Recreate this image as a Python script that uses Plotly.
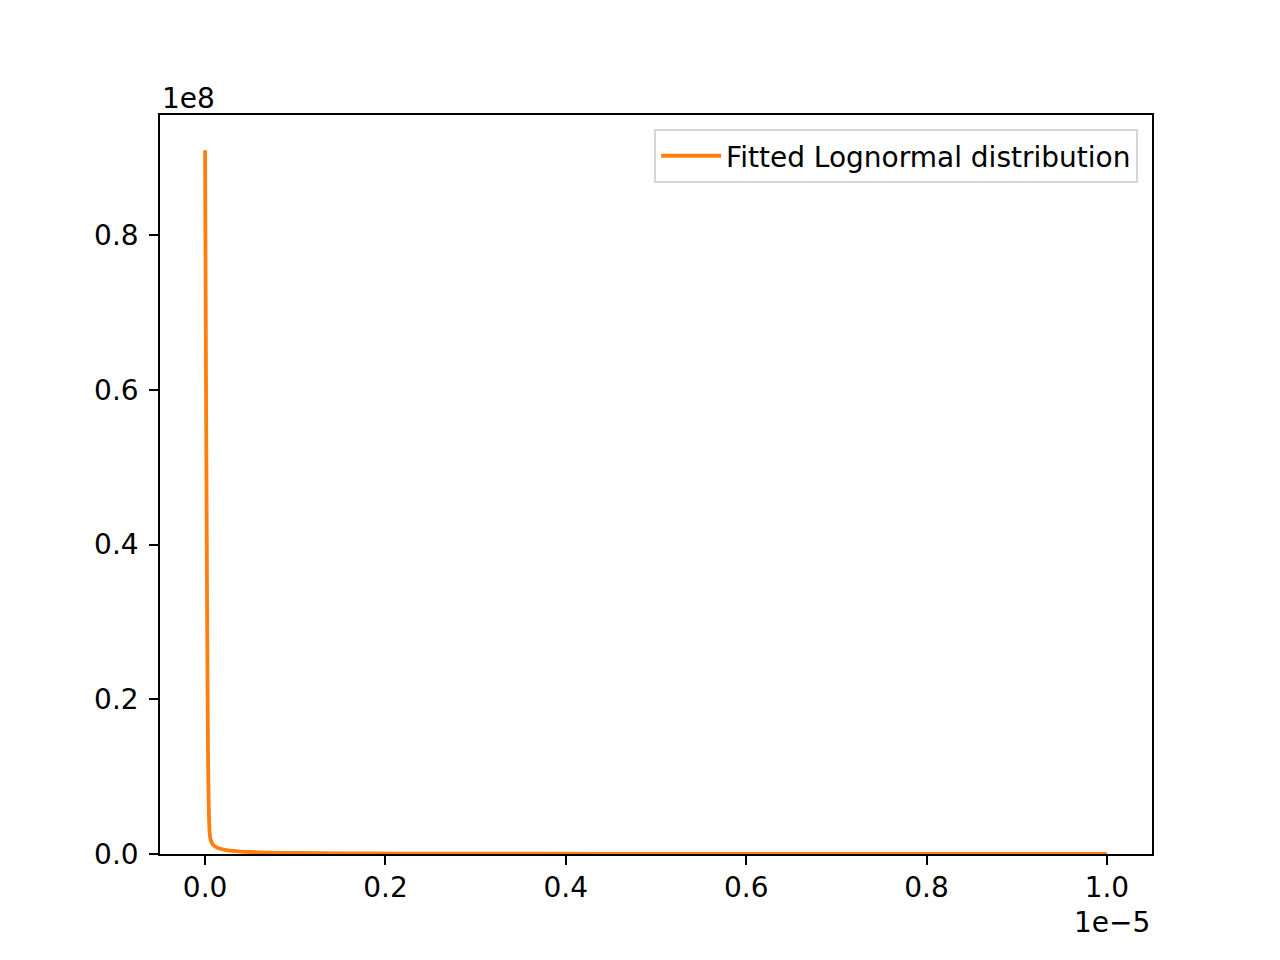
import plotly.graph_objects as go

# Values (x in units of 1e-5, density in units of 1e8)
x_vals = [0.0, 0.0011, 0.0022, 0.0033, 0.0044, 0.0055, 0.0072, 0.0089, 0.0115, 0.0144,
          0.018, 0.022, 0.03, 0.04, 0.05, 0.07, 0.105, 0.15, 0.216, 0.3, 0.44, 0.6, 0.8, 1.0]
pdf_vals = [0.91, 0.587, 0.328, 0.121, 0.044, 0.022, 0.0155, 0.0116, 0.0095, 0.0078,
            0.0064, 0.0052, 0.0040, 0.0031, 0.0026, 0.0019, 0.0013, 0.0009, 0.0006, 0.0004,
            0.00025, 0.00015, 0.0001, 0.00006]
series_name = "Fitted Lognormal distribution"
x_ticks = [0.0, 0.2, 0.4, 0.6, 0.8, 1.0]
y_ticks = [0.0, 0.2, 0.4, 0.6, 0.8]
x_exp_label = "1e\u22125"
y_exp_label = "1e8"

FONT = "DejaVu Sans"
FS = 28

fig = go.Figure()
fig.add_trace(go.Scatter(
    x=x_vals, y=pdf_vals, mode="lines", name=series_name,
    line=dict(color="#ff7f0e", width=3.8, shape="spline", smoothing=0.6),
))

axis_common = dict(
    showline=True, linecolor="black", linewidth=1.5, mirror=True,
    ticks="outside", ticklen=9, tickwidth=1.5, tickcolor="black",
    showgrid=False, zeroline=False,
    tickfont=dict(family=FONT, size=FS, color="black"),
    tickformat=".1f",
)

fig.update_xaxes(range=[-0.05, 1.05], tickvals=x_ticks, ticklabelstandoff=-1, **axis_common)
fig.update_yaxes(range=[0, 0.9555], tickvals=y_ticks, ticklabelstandoff=5, **axis_common)

fig.add_annotation(text=y_exp_label, xref="paper", yref="paper", x=0, y=1,
                   xanchor="left", yanchor="bottom", showarrow=False, yshift=-2,
                   font=dict(family=FONT, size=FS, color="black"))
fig.add_annotation(text=x_exp_label, xref="paper", yref="paper", x=1, y=0,
                   xanchor="right", yanchor="top", showarrow=False, yshift=-50,
                   font=dict(family=FONT, size=FS, color="black"))

fig.update_layout(
    width=1280, height=960,
    margin=dict(l=152, r=136, t=107, b=114),
    paper_bgcolor="white", plot_bgcolor="white",
    showlegend=True,
    legend=dict(
        x=0.986, y=0.981, xanchor="right", yanchor="top",
        bgcolor="rgba(255,255,255,0.8)", bordercolor="#d6d6d6", borderwidth=2,
        font=dict(family=FONT, size=FS, color="black"),
        itemwidth=60,
    ),
)

fig.write_html("out.html")
